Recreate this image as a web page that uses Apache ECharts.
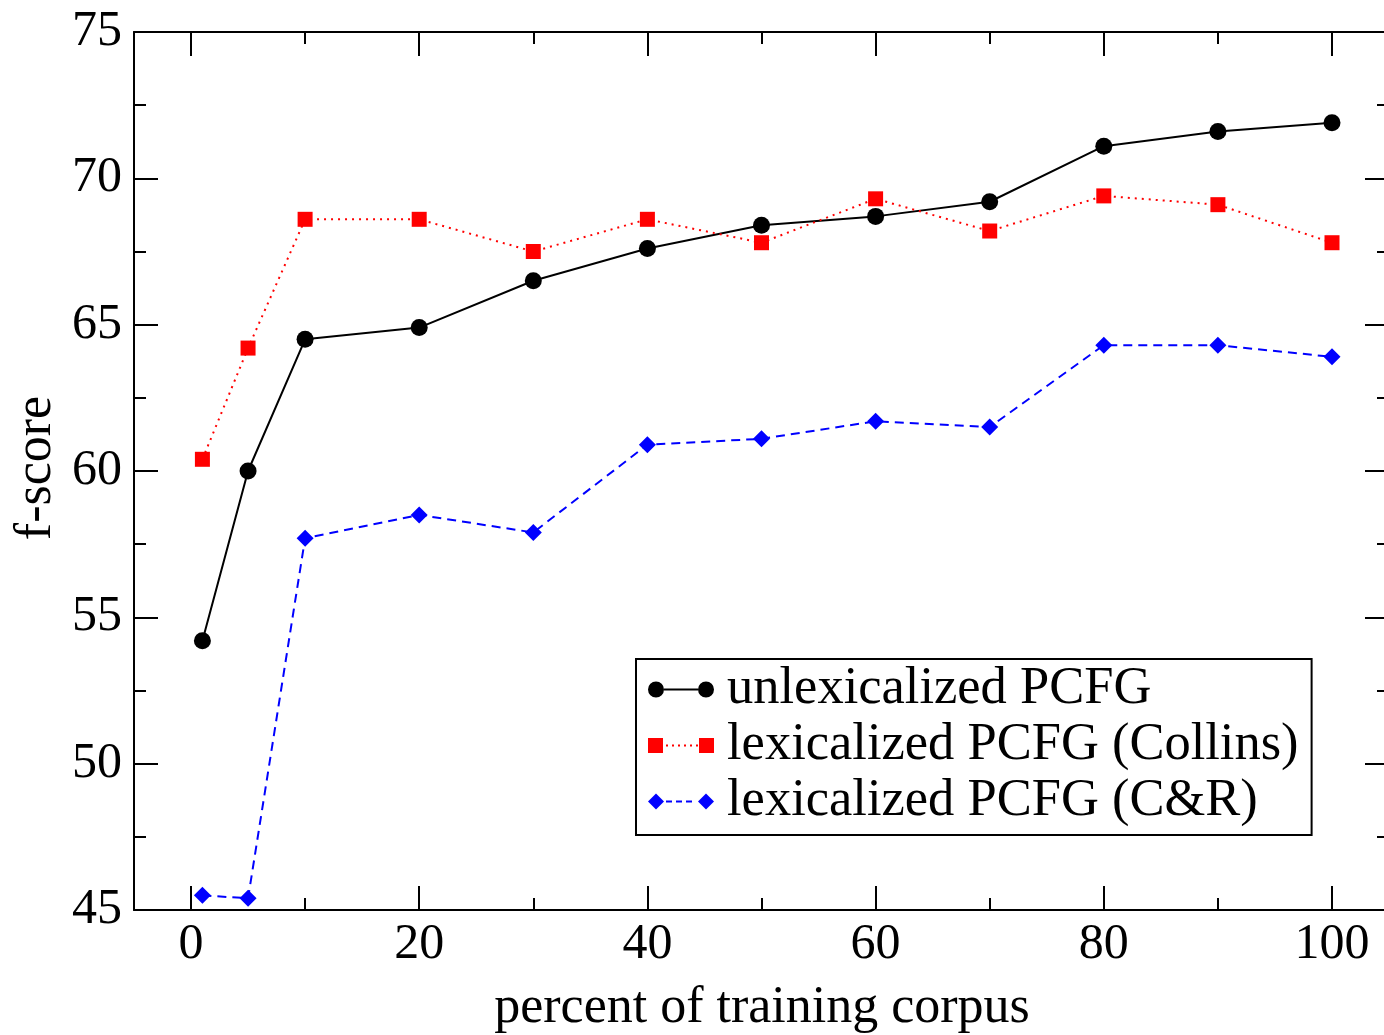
<!DOCTYPE html>
<html>
<head>
<meta charset="utf-8">
<script src="https://cdn.jsdelivr.net/npm/echarts@6/dist/echarts.min.js"></script>
<style>
  html, body { margin: 0; padding: 0; background: #fff; }
  #chart { width: 1384px; height: 1035px; }
</style>
</head>
<body>
<div id="chart"></div>
<script>
// training corpus size (percent) and f-scores
const percents = [1, 5, 10, 20, 30, 40, 50, 60, 70, 80, 90, 100];
const unlexPCFG = [54.2, 60.0, 64.5, 64.9, 66.5, 67.6, 68.4, 68.7, 69.2, 71.1, 71.6, 71.9];
const lexCollins = [60.4, 64.2, 68.6, 68.6, 67.5, 68.6, 67.8, 69.3, 68.2, 69.4, 69.1, 67.8];
const lexCR = [45.5, 45.4, 57.7, 58.5, 57.9, 60.9, 61.1, 61.7, 61.5, 64.3, 64.3, 63.9];
const seriesNames = ['unlexicalized PCFG', 'lexicalized PCFG (Collins)', 'lexicalized PCFG (C&R)'];
const xTitle = 'percent of training corpus';
const yTitle = 'f-score';

const FONT = 'Liberation Serif';

// legend icons: marker - line - marker, like the original
function segs(x0, x1, len, gap) {
  let p = '';
  for (let x = x0; x + len <= x1; x += len + gap) {
    p += 'M' + x + ',7H' + (x + len) + 'V9H' + x + 'Z';
  }
  return p;
}
const iconCircle = 'path://M0,8A8,8 0 1 1 16,8A8,8 0 1 1 0,8Z' +
  'M50,8A8,8 0 1 1 66,8A8,8 0 1 1 50,8Z' + 'M16,7H50V9H16Z';
const iconSquare = 'path://M0,0.5H15V15.5H0Z' + 'M51,0.5H66V15.5H51Z' + segs(18, 50, 2, 4);
const iconDiamond = 'path://M0,8L8,0L16,8L8,16Z' + 'M50,8L58,0L66,8L58,16Z' + segs(18, 48, 6, 4);

const chart = echarts.init(document.getElementById('chart'));

// grid 0: frame lines (-5..105), grid 1: 0..100 x ticks + data, grid 2: y axes
function frameX(pos) {
  return {
    type: 'value', gridIndex: 0, position: pos, min: -5, max: 105,
    axisLine: { show: true, onZero: false, lineStyle: { color: '#000', width: 2 } },
    axisTick: { show: false }, axisLabel: { show: false }, splitLine: { show: false }
  };
}
function tickX(pos) {
  return {
    type: 'value', gridIndex: 1, position: pos, min: 0, max: 100, interval: 20,
    axisLine: { show: false, onZero: false },
    axisTick: { show: true, inside: true, length: 24, lineStyle: { color: '#000', width: 2 } },
    minorTick: { show: true, splitNumber: 2, length: 12, lineStyle: { color: '#000', width: 2 } },
    axisLabel: { show: false },
    splitLine: { show: false }
  };
}
function frameY(pos) {
  return {
    type: 'value', gridIndex: 2, position: pos, min: 45, max: 75, interval: 5,
    axisLine: { show: true, onZero: false, lineStyle: { color: '#000', width: 2 } },
    axisTick: { show: true, inside: true, length: 24, lineStyle: { color: '#000', width: 2 } },
    minorTick: { show: true, splitNumber: 2, length: 12, lineStyle: { color: '#000', width: 2 } },
    axisLabel: { show: false },
    splitLine: { show: false }
  };
}
function hidden(grid, min, max, pos) {
  return { type: 'value', gridIndex: grid, position: pos, min: min, max: max, show: false,
    axisLine: { show: false, onZero: false } };
}

const xBottom = tickX('bottom');
xBottom.axisLabel = { show: true, margin: 10, fontFamily: FONT, fontSize: 50, color: '#000' };

const yLeft = frameY('left');
yLeft.axisLabel = { show: true, margin: 12, fontFamily: FONT, fontSize: 50, color: '#000' };

chart.setOption({
  animation: false,
  grid: [
    { left: 134, top: 32, width: 1255, height: 878, outerBoundsMode: 'none' },
    { left: 191, top: 32, width: 1141, height: 878, outerBoundsMode: 'none' },
    { left: 134, top: 32, width: 1255, height: 878, outerBoundsMode: 'none' }
  ],
  xAxis: [frameX('bottom'), frameX('top'), xBottom, tickX('top'), hidden(2, 10, 20, 'bottom')],
  yAxis: [hidden(0, 45, 75, 'left'), yLeft, frameY('right'), hidden(1, 45, 75, 'right')],
  // axis titles
  graphic: [
    {
      type: 'text', x: 762, y: 1008,
      style: { text: xTitle, font: '52px "Liberation Serif"', fill: '#000', align: 'center', verticalAlign: 'middle' }
    },
    {
      type: 'text', x: 36, y: 468, rotation: Math.PI / 2,
      style: { text: yTitle, font: '52px "Liberation Serif"', fill: '#000', align: 'center', verticalAlign: 'middle' }
    }
  ],
  legend: {
    orient: 'vertical',
    left: 636, top: 659,
    padding: [4, 13, 7, 12],
    itemGap: 3,
    itemWidth: 66, itemHeight: 16,
    borderColor: '#000', borderWidth: 2,
    backgroundColor: '#fff',
    selectedMode: false,
    itemStyle: { borderWidth: 0 },
    textStyle: { fontFamily: FONT, fontSize: 52.5, lineHeight: 53, color: '#000', padding: [0, 0, 0, 8] },
    data: [
      { name: seriesNames[0], icon: iconCircle },
      { name: seriesNames[1], icon: iconSquare },
      { name: seriesNames[2], icon: iconDiamond }
    ]
  },
  series: [
    {
      name: seriesNames[0], type: 'line', xAxisIndex: 2, yAxisIndex: 3,
      data: percents.map((p, i) => [p, unlexPCFG[i]]),
      symbol: 'circle', symbolSize: 17,
      itemStyle: { color: '#000' },
      lineStyle: { color: '#000', width: 2 }
    },
    {
      name: seriesNames[1], type: 'line', xAxisIndex: 2, yAxisIndex: 3,
      data: percents.map((p, i) => [p, lexCollins[i]]),
      symbol: 'rect', symbolSize: 15,
      itemStyle: { color: '#ff0000' },
      lineStyle: { color: '#ff0000', width: 2, type: [2, 5] }
    },
    {
      name: seriesNames[2], type: 'line', xAxisIndex: 2, yAxisIndex: 3,
      data: percents.map((p, i) => [p, lexCR[i]]),
      symbol: 'diamond', symbolSize: 17,
      itemStyle: { color: '#0000ff' },
      lineStyle: { color: '#0000ff', width: 2, type: [9, 6] }
    }
  ]
});
window.addEventListener('resize', () => chart.resize());
</script>
</body>
</html>
